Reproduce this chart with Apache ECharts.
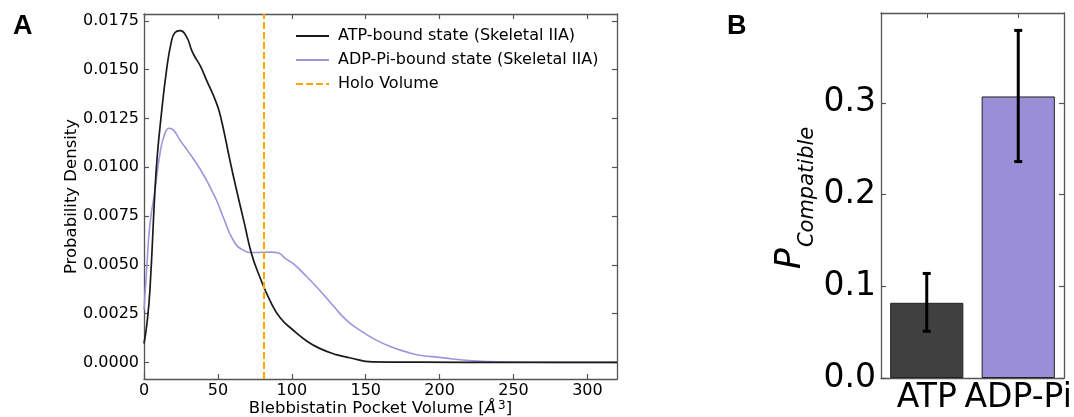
<!DOCTYPE html>
<html lang="en">
<head>
    <meta charset="utf-8">
    <title>Blebbistatin pocket volume</title>
    <script type="text/javascript" src="https://cdn.jsdelivr.net/npm/echarts@6/dist/echarts.min.js"></script>
    <style>
        html, body { margin: 0; padding: 0; background: #fff; }
    </style>
</head>
<body>
<div id="main" style="width: 1074px;height:417px;"></div>
<script>
    // panel A: densities
    var atpX = [0, 2, 4, 7.4, 9, 11.3, 15.3, 18.7, 21, 24.3, 28.8, 32.2, 34.4, 38, 42.3, 49.1, 52.4, 58.1, 62.6, 68, 72.7, 78.3, 85.1, 92, 100.8, 110, 118.8, 130, 139.1, 154.6, 186, 250, 320];
    var atpY = [0.00097, 0.0020, 0.0037, 0.0088, 0.0106, 0.0124, 0.0150, 0.0165, 0.0169, 0.0170, 0.01668, 0.0160, 0.01566, 0.0152, 0.01446, 0.01327, 0.01241, 0.01036, 0.00883, 0.0071, 0.00558, 0.00439, 0.00319, 0.0023, 0.00166, 0.0011, 0.00072, 0.0004, 0.00024, 0.00003, 0.00001, 0, 0];
    var adpX = [0, 2, 4.05, 7.4, 10.8, 14, 17.1, 20, 24.3, 30, 35.6, 42.3, 45.7, 49.1, 53.5, 60.3, 67.1, 73.8, 80, 86, 91, 96, 100.8, 110, 118.8, 128, 136.9, 147, 157.1, 167, 177.4, 186.4, 199.9, 222.4, 250, 280, 320];
    var adpY = [0.0027, 0.0050, 0.0071, 0.0088, 0.0107, 0.0117, 0.0120, 0.0119, 0.01139, 0.0108, 0.01019, 0.00934, 0.00883, 0.00831, 0.00746, 0.00627, 0.00575, 0.00563, 0.00564, 0.00565, 0.0056, 0.0053, 0.00507, 0.0044, 0.0037, 0.0029, 0.00217, 0.0016, 0.00114, 0.0008, 0.00054, 0.00037, 0.00026, 0.00008, 0.00002, 0, 0];
    var holoVolume = 81;
    var xTicksA = [0, 50, 100, 150, 200, 250, 300];
    var yTicksA = [0, 0.0025, 0.005, 0.0075, 0.01, 0.0125, 0.015, 0.0175];

    // panel B: bars with error bars
    var states = ['ATP', 'ADP-Pi'];
    var pCompatible = [0.082, 0.307];
    var errLow = [0.051, 0.236];
    var errHigh = [0.114, 0.379];
    var barColors = ['#404040', '#9a8fd6'];
    var yTicksB = [0, 0.1, 0.2, 0.3];

    function pairs(xs, ys) {
        return xs.map(function (x, i) { return [x, ys[i]]; });
    }

    var font = 'DejaVu Sans';
    var spine = { show: true, onZero: false, lineStyle: { color: '#555', width: 1.3 } };
    var tickIn = function (vals) {
        return { show: true, inside: true, length: 5, customValues: vals, lineStyle: { color: '#555', width: 1.2 } };
    };

    var chartDom = document.getElementById('main');
    var myChart = echarts.init(chartDom, null, { renderer: 'canvas' });
    var option;

    option = {
        animation: false,
        backgroundColor: '#fff',
        textStyle: { fontFamily: font, color: '#000' },
        grid: [
            { left: 144, top: 14, width: 473, height: 365, outerBoundsMode: 'none' },
            { left: 881, top: 13, width: 183, height: 365, outerBoundsMode: 'none' }
        ],
        legend: {
            left: 290, top: 23, orient: 'vertical',
            itemWidth: 33, itemHeight: 14, itemGap: 8,
            itemStyle: { opacity: 0 },
            textStyle: { fontFamily: font, fontSize: 16, color: '#000', padding: [0, 0, 0, 4] },
            data: ['ATP-bound state (Skeletal IIA)', 'ADP-Pi-bound state (Skeletal IIA)', 'Holo Volume']
        },
        xAxis: [
            {
                type: 'value', gridIndex: 0, min: 0, max: 320, position: 'bottom',
                axisLine: spine, axisTick: tickIn(xTicksA), splitLine: { show: false },
                axisLabel: { customValues: xTicksA, fontSize: 16, color: '#000', margin: 4 },
                name: '{t|Blebbistatin Pocket Volume [}{i|Å}{s|3}{t|]}',
                nameLocation: 'middle', nameGap: 21, nameMoveOverlap: false,
                nameTextStyle: {
                    rich: {
                        t: { fontSize: 16.5, fontFamily: font, color: '#000' },
                        i: { fontSize: 16.5, fontFamily: font, fontStyle: 'italic', color: '#000' },
                        s: { fontSize: 12, fontFamily: font, color: '#000', verticalAlign: 'top', padding: [0, 0, 6, 2] }
                    }
                }
            },
            {
                type: 'value', gridIndex: 0, min: 0, max: 320, position: 'top',
                axisLine: spine, axisTick: tickIn(xTicksA), axisLabel: { show: false }, splitLine: { show: false }
            },
            {
                type: 'category', gridIndex: 1, data: states, position: 'bottom',
                axisLine: spine, axisTick: { show: true, inside: true, length: 5, alignWithLabel: true, lineStyle: { color: '#555' } },
                axisLabel: { interval: 0, fontSize: 33, color: '#000', margin: 4 }
            },
            {
                type: 'category', gridIndex: 1, data: states, position: 'top',
                axisLine: spine, axisTick: { show: true, inside: true, length: 5, alignWithLabel: true, lineStyle: { color: '#555' } },
                axisLabel: { show: false }
            }
        ],
        yAxis: [
            {
                type: 'value', gridIndex: 0, min: -0.00085, max: 0.01785, position: 'left',
                axisLine: spine, axisTick: tickIn(yTicksA), splitLine: { show: false },
                axisLabel: {
                    customValues: yTicksA, fontSize: 16, color: '#000', margin: 5,
                    formatter: function (v) { return v.toFixed(4); }
                },
                name: 'Probability Density', nameLocation: 'middle', nameGap: 64, nameMoveOverlap: false,
                nameTextStyle: { fontSize: 16.5, color: '#000' }
            },
            {
                type: 'value', gridIndex: 0, min: -0.00085, max: 0.01785, position: 'right',
                axisLine: spine, axisTick: tickIn(yTicksA), axisLabel: { show: false }, splitLine: { show: false }
            },
            {
                type: 'value', gridIndex: 1, min: 0, max: 0.398, position: 'left',
                axisLine: spine, axisTick: tickIn(yTicksB), splitLine: { show: false },
                axisLabel: {
                    customValues: yTicksB, fontSize: 33, color: '#000', margin: 5,
                    formatter: function (v) { return v.toFixed(1); }
                }
            },
            {
                type: 'value', gridIndex: 1, min: 0, max: 0.398, position: 'right',
                axisLine: spine, axisTick: tickIn(yTicksB), axisLabel: { show: false }, splitLine: { show: false }
            }
        ],
        graphic: [
            { type: 'text', x: 13, y: 13, style: { text: 'A', font: 'bold 27px "Liberation Sans"', fill: '#000' } },
            { type: 'text', x: 727, y: 13, style: { text: 'B', font: 'bold 27px "Liberation Sans"', fill: '#000' } },
            {
                type: 'text', x: 796, y: 198, rotation: Math.PI / 2,
                style: {
                    text: '{p|P}{s|Compatible}',
                    align: 'center', verticalAlign: 'middle',
                    rich: {
                        p: { fontSize: 35, fontFamily: font, fontStyle: 'italic', fill: '#000', padding: [0, 1, 10, 0] },
                        s: { fontSize: 21, fontFamily: font, fontStyle: 'italic', fill: '#000', verticalAlign: 'bottom' }
                    }
                }
            }
        ],
        series: [
            {
                name: 'ATP-bound state (Skeletal IIA)', type: 'line', xAxisIndex: 0, yAxisIndex: 0,
                data: pairs(atpX, atpY), symbol: 'none', smooth: 0.5,
                lineStyle: { color: '#1a1a1a', width: 1.7 }, itemStyle: { color: '#1a1a1a' }, z: 3
            },
            {
                name: 'ADP-Pi-bound state (Skeletal IIA)', type: 'line', xAxisIndex: 0, yAxisIndex: 0,
                data: pairs(adpX, adpY), symbol: 'none', smooth: 0.5,
                lineStyle: { color: '#9d95dc', width: 1.6 }, itemStyle: { color: '#9d95dc' }, z: 2
            },
            {
                name: 'Holo Volume', type: 'line', xAxisIndex: 0, yAxisIndex: 0, data: [],
                symbol: 'none',
                lineStyle: { color: '#ffa500', width: 2, type: [7, 3] }, itemStyle: { color: '#ffa500' },
                markLine: {
                    silent: true, symbol: 'none', label: { show: false },
                    lineStyle: { color: '#ffa500', width: 2, type: [7, 3] },
                    data: [{ xAxis: holoVolume }]
                }
            },
            {
                type: 'bar', xAxisIndex: 2, yAxisIndex: 2, barWidth: '80%',
                data: pCompatible.map(function (v, i) {
                    return { value: v, itemStyle: { color: barColors[i] } };
                }),
                itemStyle: { borderColor: '#222', borderWidth: 1 }
            },
            {
                type: 'custom', xAxisIndex: 2, yAxisIndex: 2, z: 5,
                data: states.map(function (s, i) { return [i, errLow[i], errHigh[i]]; }),
                renderItem: function (params, api) {
                    var lo = api.coord([api.value(0), api.value(1)]);
                    var hi = api.coord([api.value(0), api.value(2)]);
                    var cap = 4;
                    var st = { stroke: '#000', lineWidth: 3 };
                    return {
                        type: 'group',
                        children: [
                            { type: 'line', shape: { x1: lo[0], y1: lo[1], x2: hi[0], y2: hi[1] }, style: st },
                            { type: 'line', shape: { x1: lo[0] - cap, y1: lo[1], x2: lo[0] + cap, y2: lo[1] }, style: st },
                            { type: 'line', shape: { x1: hi[0] - cap, y1: hi[1], x2: hi[0] + cap, y2: hi[1] }, style: st }
                        ]
                    };
                }
            }
        ]
    };

    myChart.setOption(option);
</script>
</body>
</html>
